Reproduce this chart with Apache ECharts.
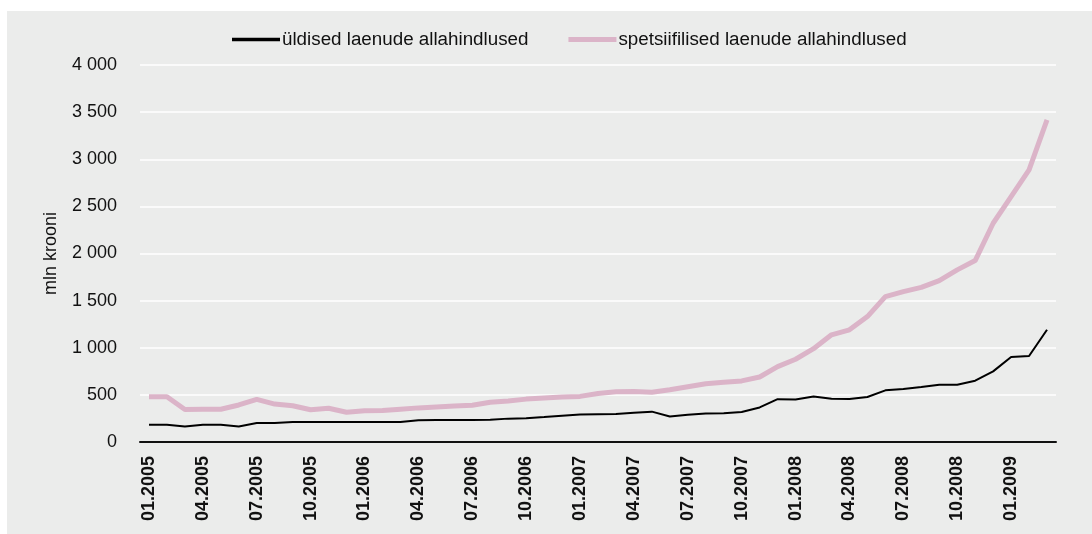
<!DOCTYPE html>
<html>
<head>
<meta charset="utf-8">
<script src="https://cdn.jsdelivr.net/npm/echarts@6/dist/echarts.min.js"></script>
<style>
  html, body { margin: 0; padding: 0; background: #ffffff; }
  #chart { width: 1092px; height: 534px; }
</style>
</head>
<body>
<div id="chart"></div>
<script>
// Monthly loan impairments, 01.2005 – 03.2009 (mln krooni)
const years = [2005, 2006, 2007, 2008, 2009];
const months = [];
years.forEach(y => {
  for (let m = 1; m <= 12; m++) {
    if (y === 2009 && m > 3) break;
    months.push((m < 10 ? '0' + m : '' + m) + '.' + y);
  }
});

const seriesNames = ['üldised laenude allahindlused', 'spetsiifilised laenude allahindlused'];

const general = [
  184, 184, 165, 184, 184, 165, 201, 201, 212, 212, 212, 212,
  212, 212, 212, 232, 234, 234, 234, 237, 248, 252, 264, 278,
  292, 295, 298, 310, 322, 270, 289, 303, 305, 318, 367, 454,
  452, 482, 458, 456, 477, 548, 562, 583, 608, 608, 650, 749,
  901, 913, 1191
];

const specific = [
  481, 481, 345, 348, 348, 393, 453, 402, 385, 342, 358, 316,
  332, 334, 348, 362, 372, 382, 390, 422, 436, 455, 467, 478,
  484, 515, 534, 535, 527, 555, 587, 618, 633, 648, 690, 800,
  878, 990, 1137, 1190, 1331, 1543, 1596, 1640, 1713, 1826, 1925, 2321,
  2604, 2887, 3417
];

const yTicks = [0, 500, 1000, 1500, 2000, 2500, 3000, 3500, 4000];

const FONT = '"Liberation Sans", Arial, Helvetica, sans-serif';
const PINK = '#dbb4c8';

const chart = echarts.init(document.getElementById('chart'), null, { renderer: 'canvas' });

const fmt = v => String(v).replace(/\B(?=(\d{3})+(?!\d))/g, ' ');

chart.setOption({
  animation: false,
  backgroundColor: '#ffffff',
  graphic: [{
    type: 'rect',
    z: -10,
    silent: true,
    shape: { x: 7, y: 11, width: 1092 - 7, height: 534 - 11 },
    style: { fill: '#ebeceb' }
  }],
  textStyle: { fontFamily: FONT, color: '#111' },
  legend: {
    top: 25,
    left: 227,
    itemWidth: 48,
    itemHeight: 14,
    itemGap: 40,
    textStyle: { fontFamily: FONT, fontSize: 18.8, color: '#111', padding: [0, 0, 0, -3] },
    data: [
      { name: seriesNames[0], icon: 'path://M0,0 L46,0 L46,3.2 L0,3.2 Z', itemStyle: { color: '#000000' } },
      { name: seriesNames[1], icon: 'path://M0,0 L50,0 L50,5 L0,5 Z', itemStyle: { color: PINK } }
    ]
  },
  grid: { left: 140, right: 36, top: 65, bottom: 92 },
  xAxis: {
    type: 'category',
    data: months,
    boundaryGap: true,
    axisLine: { show: true, lineStyle: { color: '#111', width: 2 } },
    axisTick: { show: false },
    axisLabel: {
      interval: 2,
      rotate: 90,
      margin: 14,
      fontFamily: FONT,
      fontSize: 18,
      fontWeight: 'bold',
      color: '#111'
    },
    splitLine: { show: false }
  },
  yAxis: {
    type: 'value',
    min: yTicks[0],
    max: yTicks[yTicks.length - 1],
    interval: 500,
    name: 'mln krooni',
    nameLocation: 'middle',
    nameRotate: 90,
    nameGap: 80,
    nameTextStyle: { fontFamily: FONT, fontSize: 18, color: '#111' },
    axisLine: { show: false },
    axisTick: { show: false },
    axisLabel: {
      margin: 23,
      fontFamily: FONT,
      fontSize: 18,
      color: '#111',
      formatter: v => fmt(v)
    },
    splitLine: { show: true, lineStyle: { color: '#ffffff', width: 1.5 } }
  },
  series: [
    {
      name: seriesNames[0],
      type: 'line',
      data: general,
      showSymbol: false,
      symbol: 'none',
      lineStyle: { color: '#000000', width: 2 },
      itemStyle: { color: '#000000' },
      z: 3
    },
    {
      name: seriesNames[1],
      type: 'line',
      data: specific,
      showSymbol: false,
      symbol: 'none',
      lineStyle: { color: PINK, width: 5 },
      itemStyle: { color: PINK },
      z: 2
    }
  ]
});
</script>
</body>
</html>
